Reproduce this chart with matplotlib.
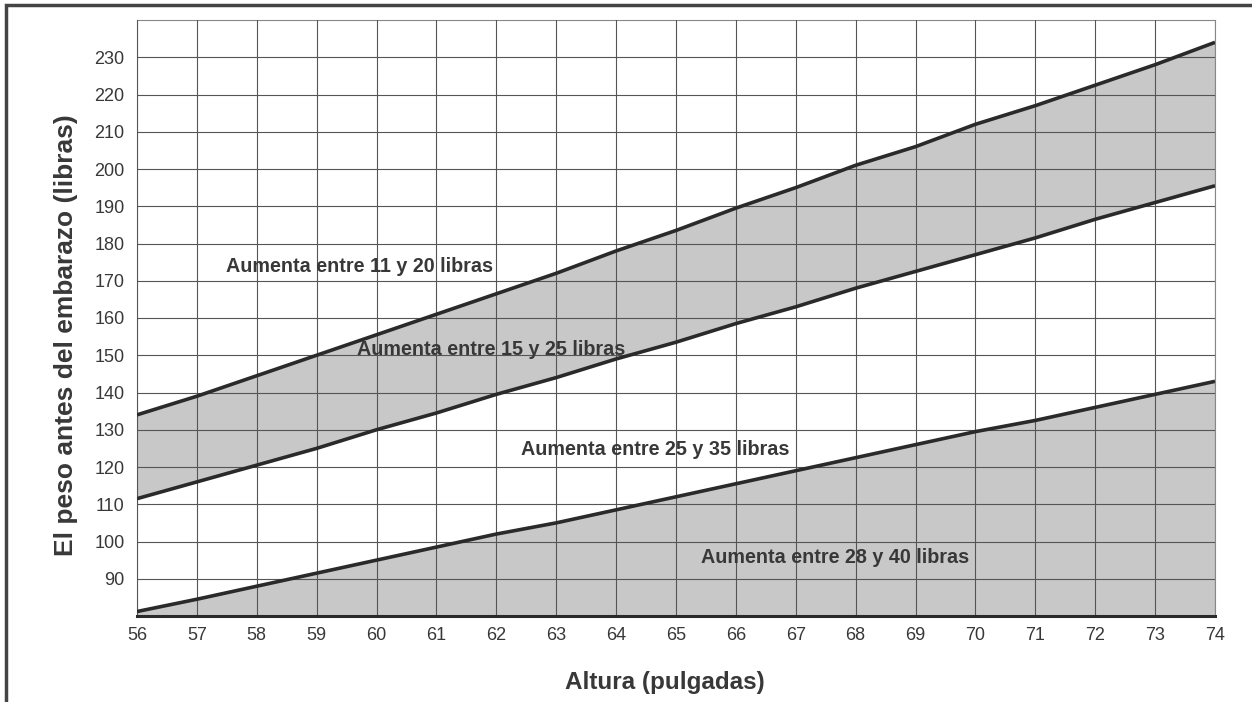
import matplotlib
matplotlib.use("Agg")
import matplotlib.pyplot as plt
from matplotlib.patches import Rectangle
import numpy as np

plt.rcParams['font.family'] = ['Liberation Sans', 'DejaVu Sans']

# valores
altura = list(range(56, 75))
limite_sup = [134, 139, 144.5, 150, 155.5, 161, 166.5, 172, 178, 183.5,
              189.5, 195, 201, 206, 212, 217, 222.5, 228, 234]
limite_med = [111.5, 116, 120.5, 125, 130, 134.5, 139.5, 144, 149, 153.5,
              158.5, 163, 168, 172.5, 177, 181.5, 186.5, 191, 195.5]
limite_inf = [81.2, 84.5, 88, 91.5, 95, 98.5, 102, 105, 108.5, 112,
              115.5, 119, 122.5, 126, 129.5, 132.5, 136, 139.5, 143]

etiquetas = ["Aumenta entre 11 y 20 libras", "Aumenta entre 15 y 25 libras",
             "Aumenta entre 25 y 35 libras", "Aumenta entre 28 y 40 libras"]
etiq_x = [59.72, 61.91, 64.66, 67.65]
etiq_y = [173.8, 151.6, 124.8, 95.6]

y_ticks = list(range(90, 240, 10))

fig = plt.figure(figsize=(12.52, 7.02), dpi=100)
ax = fig.add_axes([137/1252, 1-616/702, (1215-137)/1252, (616-20)/702])

gris = '#c8c8c8'
oscuro = '#2a2a2a'
texto = '#383838'
ax.fill_between(altura, limite_med, limite_sup, color=gris, zorder=1, lw=0)
ax.fill_between(altura, 80, limite_inf, color=gris, zorder=1, lw=0)

ax.set_xlim(56, 74)
ax.set_ylim(80, 240)
ax.set_xticks(altura)
ax.set_yticks(y_ticks)
ax.grid(True, color='#555555', lw=0.8, zorder=2)
ax.set_axisbelow(False)

for serie in (limite_sup, limite_med, limite_inf):
    ax.plot(altura, serie, color=oscuro, lw=2.6, zorder=4, solid_capstyle='butt')

for s in ('top', 'left', 'right'):
    ax.spines[s].set_color('#888888')
    ax.spines[s].set_linewidth(0.8)
ax.spines['bottom'].set_color(oscuro)
ax.spines['bottom'].set_linewidth(2.2)
ax.spines['bottom'].set_zorder(5)

ax.tick_params(length=0, labelsize=13, labelcolor=texto)
ax.tick_params(axis='x', pad=8)
ax.tick_params(axis='y', pad=9)

for t, x, y in zip(etiquetas, etiq_x, etiq_y):
    ax.text(x, y, t, ha='center', va='center', fontsize=14.2, fontweight='bold',
            color=texto, zorder=6)

ax.set_xlabel('Altura (pulgadas)', fontsize=17.5, fontweight='bold',
              color=texto, labelpad=19)
ax.xaxis.label.set_x(0.49)
ax.set_ylabel('El peso antes del embarazo (libras)', fontsize=19,
              fontweight='bold', color=texto, labelpad=12)
ax.yaxis.label.set_y(0.472)

# marco exterior
fig.patches.append(Rectangle((6/1252, -0.2), 1.2, 1.2 - 5/702,
                             transform=fig.transFigure, fill=False,
                             edgecolor='#444444', lw=2.5, zorder=0))

fig.savefig('out.png', dpi=100)
